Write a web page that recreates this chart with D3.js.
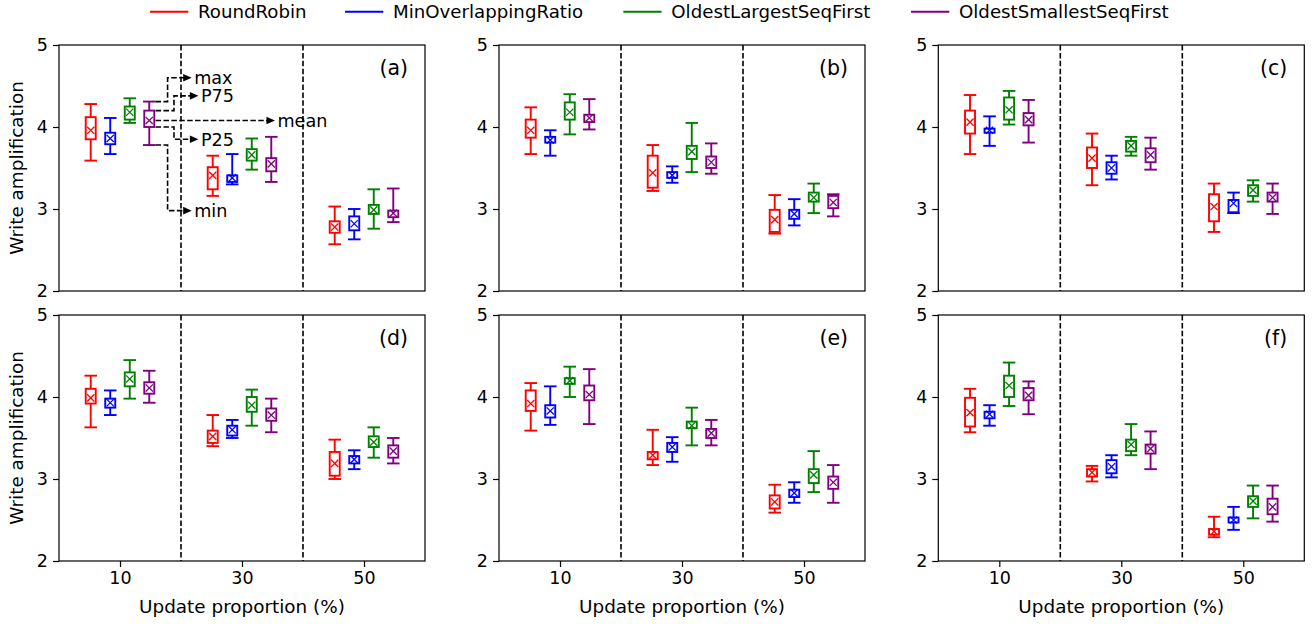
<!DOCTYPE html>
<html>
<head>
<meta charset="utf-8">
<script src="https://cdn.jsdelivr.net/npm/d3@7"></script>
<style>
  html, body { margin: 0; padding: 0; background: #fff; }
  svg { display: block; font-family: "DejaVu Sans", sans-serif; }
</style>
</head>
<body>
<svg id="chart" width="1316" height="624"></svg>
<script>
// ---------------- DATA ----------------
const categories = [10, 30, 50];
const tickLabels = ["10", "30", "50"];
const yTicks = [2, 3, 4, 5];
const series = ["RoundRobin", "MinOverlappingRatio", "OldestLargestSeqFirst", "OldestSmallestSeqFirst"];
const seriesColors = ["red", "blue", "green", "purple"];
const seriesOffsets = [-4.8, -1.6, 1.6, 4.8];
const panelLabels = ["(a)", "(b)", "(c)", "(d)", "(e)", "(f)"];
const dividers = [20, 40];

// each series: for 10, 30, 50 -> [min, P25, mean, P75, max]
const panelA = [
  [[3.59, 3.85, 3.96, 4.12, 4.28], [3.16, 3.24, 3.41, 3.51, 3.65], [2.57, 2.71, 2.78, 2.85, 3.03]],
  [[3.67, 3.79, 3.86, 3.93, 4.11], [3.30, 3.33, 3.38, 3.41, 3.67], [2.63, 2.74, 2.82, 2.91, 3.00]],
  [[4.05, 4.09, 4.18, 4.25, 4.35], [3.48, 3.59, 3.66, 3.73, 3.86], [2.76, 2.94, 2.99, 3.05, 3.24]],
  [[3.78, 4.00, 4.08, 4.20, 4.31], [3.33, 3.46, 3.55, 3.62, 3.88], [2.84, 2.90, 2.95, 2.98, 3.25]]
];
const panelB = [
  [[3.67, 3.87, 3.96, 4.09, 4.24], [3.22, 3.26, 3.44, 3.65, 3.78], [2.70, 2.72, 2.87, 2.99, 3.17]],
  [[3.65, 3.81, 3.84, 3.88, 3.96], [3.32, 3.38, 3.41, 3.45, 3.52], [2.80, 2.88, 2.94, 2.99, 3.12]],
  [[3.91, 4.09, 4.18, 4.30, 4.40], [3.45, 3.61, 3.70, 3.77, 4.05], [2.95, 3.09, 3.14, 3.20, 3.31]],
  [[3.97, 4.06, 4.11, 4.15, 4.34], [3.43, 3.50, 3.57, 3.64, 3.80], [2.91, 3.01, 3.08, 3.16, 3.18]]
];
const panelC = [
  [[3.67, 3.92, 4.06, 4.20, 4.39], [3.29, 3.50, 3.62, 3.75, 3.92], [2.72, 2.85, 3.03, 3.18, 3.31]],
  [[3.77, 3.93, 3.96, 3.98, 4.13], [3.36, 3.43, 3.50, 3.57, 3.65], [2.95, 2.96, 3.07, 3.11, 3.20]],
  [[4.03, 4.09, 4.21, 4.36, 4.44], [3.65, 3.70, 3.77, 3.83, 3.88], [3.09, 3.16, 3.23, 3.29, 3.35]],
  [[3.81, 4.02, 4.09, 4.17, 4.33], [3.48, 3.57, 3.66, 3.74, 3.87], [2.94, 3.09, 3.14, 3.20, 3.31]]
];
const panelD = [
  [[3.63, 3.92, 3.99, 4.10, 4.26], [3.40, 3.44, 3.52, 3.59, 3.78], [3.00, 3.04, 3.19, 3.33, 3.48]],
  [[3.78, 3.87, 3.93, 3.98, 4.08], [3.50, 3.53, 3.60, 3.65, 3.72], [3.12, 3.19, 3.24, 3.28, 3.35]],
  [[3.98, 4.13, 4.22, 4.30, 4.45], [3.65, 3.82, 3.90, 4.00, 4.09], [3.26, 3.39, 3.45, 3.52, 3.63]],
  [[3.93, 4.04, 4.11, 4.18, 4.32], [3.57, 3.71, 3.78, 3.86, 3.98], [3.19, 3.26, 3.34, 3.41, 3.50]]
];
const panelE = [
  [[3.59, 3.83, 3.92, 4.08, 4.17], [3.17, 3.24, 3.29, 3.33, 3.60], [2.59, 2.64, 2.72, 2.80, 2.93]],
  [[3.66, 3.75, 3.83, 3.90, 4.13], [3.21, 3.33, 3.39, 3.44, 3.51], [2.71, 2.78, 2.83, 2.87, 2.96]],
  [[4.00, 4.16, 4.20, 4.23, 4.37], [3.41, 3.62, 3.65, 3.70, 3.87], [2.84, 2.95, 3.05, 3.12, 3.34]],
  [[3.67, 3.96, 4.03, 4.14, 4.34], [3.41, 3.50, 3.56, 3.61, 3.72], [2.71, 2.88, 2.96, 3.03, 3.17]]
];
const panelF = [
  [[3.57, 3.64, 3.81, 3.99, 4.10], [2.97, 3.03, 3.08, 3.12, 3.16], [2.29, 2.32, 2.36, 2.39, 2.54]],
  [[3.65, 3.74, 3.79, 3.82, 3.90], [3.02, 3.07, 3.15, 3.23, 3.29], [2.38, 2.47, 2.50, 2.53, 2.66]],
  [[3.89, 4.00, 4.14, 4.26, 4.42], [3.29, 3.34, 3.42, 3.48, 3.67], [2.52, 2.66, 2.73, 2.79, 2.92]],
  [[3.79, 3.96, 4.02, 4.11, 4.19], [3.12, 3.31, 3.37, 3.42, 3.58], [2.48, 2.57, 2.66, 2.76, 2.92]]
];
const panelData = [panelA, panelB, panelC, panelD, panelE, panelF];

// annotation in panel (a): [label, statistic index, target level, bend x, arrow x]
const annoLabels = ["max", "P75", "mean", "P25", "min"];
const annoStat = [4, 3, 2, 1, 0];
const annoLevel = [4.6, 4.38, null, 3.85, 2.98];
const annoBendX = [17.8, 18.85, null, 18.85, 17.8];
const annoEndX = [21.75, 22.85, 35.4, 22.85, 21.75];

// ---------------- LAYOUT ----------------
const svg = d3.select("#chart");
const panelLefts = [59, 499, 938.3];
const panelTops = [45, 315];
const panelW = 366, panelH = 246;
const boxHalf = 0.82, capHalf = 1.03; // in data units

const font = "DejaVu Sans";

panelData.forEach((pdata, pi) => {
  const col = pi % 3, row = Math.floor(pi / 3);
  const left = panelLefts[col], top = panelTops[row];
  const x = d3.scaleLinear().domain([0, 60]).range([left, left + panelW]);
  const y = d3.scaleLinear().domain([2, 5]).range([top + panelH, top]);
  const g = svg.append("g");

  // dividers
  dividers.forEach(d => {
    g.append("line")
      .attr("x1", x(d)).attr("x2", x(d))
      .attr("y1", y(5)).attr("y2", y(2))
      .attr("stroke", "black").attr("stroke-width", 1.6)
      .attr("stroke-dasharray", "5.5,2.4");
  });

  // boxes
  pdata.forEach((sdata, si) => {
    const c = seriesColors[si];
    sdata.forEach((st, ci) => {
      const [mn, p25, mean, p75, mx] = st;
      const cx = x(categories[ci] + seriesOffsets[si]);
      const bh = x(boxHalf) - x(0), ch = x(capHalf) - x(0);
      const bg = g.append("g").attr("stroke", c).attr("fill", "none").attr("stroke-width", 1.9);
      bg.append("line").attr("x1", cx).attr("x2", cx).attr("y1", y(mx)).attr("y2", y(p75));
      bg.append("line").attr("x1", cx).attr("x2", cx).attr("y1", y(p25)).attr("y2", y(mn));
      bg.append("line").attr("x1", cx - ch).attr("x2", cx + ch).attr("y1", y(mx)).attr("y2", y(mx));
      bg.append("line").attr("x1", cx - ch).attr("x2", cx + ch).attr("y1", y(mn)).attr("y2", y(mn));
      bg.append("rect").attr("x", cx - bh).attr("y", y(p75))
        .attr("width", 2 * bh).attr("height", Math.max(0.5, y(p25) - y(p75)));
      const m = 3.6, my = y(mean);
      bg.append("path").attr("stroke-width", 1.3)
        .attr("d", `M${cx - m},${my - m}L${cx + m},${my + m}M${cx - m},${my + m}L${cx + m},${my - m}`);
    });
  });

  // frame
  g.append("rect").attr("x", x(0)).attr("y", y(5))
    .attr("width", x(60) - x(0)).attr("height", y(2) - y(5))
    .attr("fill", "none").attr("stroke", "black").attr("stroke-width", 1.2);

  // y axis
  const ya = d3.axisLeft(y).tickValues(yTicks).tickFormat(d3.format("d")).tickSize(6).tickPadding(5);
  const yg = g.append("g").attr("transform", `translate(${x(0)},0)`).call(ya);
  yg.select(".domain").remove();
  yg.selectAll("text").attr("font-size", 17.5).attr("font-family", font).attr("fill", "black");
  yg.selectAll("line").attr("stroke", "black").attr("stroke-width", 1.2);

  // x axis (bottom row only)
  if (row === 1) {
    const xa = d3.axisBottom(x).tickValues(categories).tickFormat((d, i) => tickLabels[i]).tickSize(6).tickPadding(5);
    const xg = g.append("g").attr("transform", `translate(0,${y(2)})`).call(xa);
    xg.select(".domain").remove();
    xg.selectAll("text").attr("font-size", 17.5).attr("font-family", font).attr("fill", "black");
    xg.selectAll("line").attr("stroke", "black").attr("stroke-width", 1.2);
    g.append("text").attr("x", (x(0) + x(60)) / 2).attr("y", 613)
      .attr("text-anchor", "middle").attr("font-size", 18.4).attr("font-family", font)
      .text("Update proportion (%)");
  }
  if (col === 0) {
    g.append("text")
      .attr("transform", `translate(22.5,${(y(2) + y(5)) / 2}) rotate(-90)`)
      .attr("text-anchor", "middle").attr("font-size", 18.4).attr("font-family", font)
      .text("Write amplification");
  }

  // panel label
  g.append("text").attr("x", x(60) - 17).attr("y", y(5) + 30)
    .attr("text-anchor", "end").attr("font-size", 20.5).attr("font-family", font)
    .text(panelLabels[pi]);

  // annotation in (a)
  if (pi === 0) {
    const st = pdata[3][0];
    const sx = x(categories[0] + seriesOffsets[3] + capHalf);
    annoLabels.forEach((lab, k) => {
      const v0 = st[annoStat[k]];
      const lvl = annoLevel[k] === null ? v0 : annoLevel[k];
      const ex = x(annoEndX[k]);
      let d;
      if (annoBendX[k] === null) {
        d = `M${sx},${y(v0)}H${ex - 6}`;
      } else {
        const bx = x(annoBendX[k]);
        d = `M${sx},${y(v0)}H${bx}V${y(lvl)}H${ex - 6}`;
      }
      g.append("path").attr("d", d).attr("fill", "none").attr("stroke", "black")
        .attr("stroke-width", 1.6).attr("stroke-dasharray", "5.5,2.4");
      const ay = y(lvl);
      g.append("path").attr("d", `M${ex},${ay}L${ex - 8.5},${ay - 3.8}L${ex - 8.5},${ay + 3.8}Z`).attr("fill", "black");
      g.append("text").attr("x", ex + 2.5).attr("y", ay).attr("dy", "0.36em")
        .attr("font-size", 17.6).attr("font-family", font).text(lab);
    });
  }
});

// ---------------- LEGEND ----------------
const legendLineX = [150, 345, 623.3, 911];
const leg = svg.append("g");
series.forEach((s, i) => {
  const lx = legendLineX[i];
  leg.append("line").attr("x1", lx).attr("x2", lx + 38.3).attr("y1", 11.7).attr("y2", 11.7)
    .attr("stroke", seriesColors[i]).attr("stroke-width", 1.9);
  leg.append("text").attr("x", lx + 48).attr("y", 18.3)
    .attr("font-size", 18.2).attr("font-family", font).text(s);
});
</script>
</body>
</html>
